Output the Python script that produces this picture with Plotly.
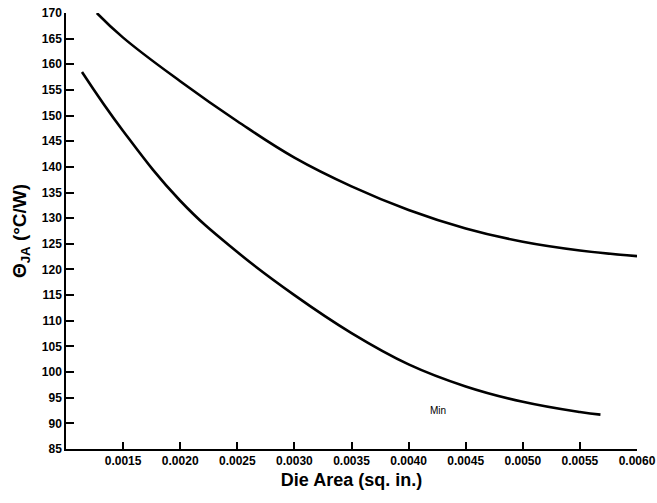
import plotly.graph_objects as go

# Data
upper_x = [0.00127, 0.0015, 0.0020, 0.0025, 0.0030, 0.0035, 0.0040, 0.0045, 0.0050, 0.0055, 0.0060]
upper_y = [170.0, 165.2, 156.7, 148.9, 141.8, 136.2, 131.6, 128.0, 125.4, 123.7, 122.6]

lower_x = [0.00114, 0.0015, 0.0020, 0.0025, 0.0030, 0.0035, 0.0040, 0.0045, 0.0050, 0.0055, 0.00568]
lower_y = [158.5, 147.0, 133.4, 123.4, 115.0, 107.6, 101.5, 97.2, 94.2, 92.2, 91.7]

x_ticks = [0.0015, 0.0020, 0.0025, 0.0030, 0.0035, 0.0040, 0.0045, 0.0050, 0.0055, 0.0060]
y_ticks = list(range(85, 171, 5))

fig = go.Figure()
for xs, ys in [(upper_x, upper_y), (lower_x, lower_y)]:
    fig.add_trace(go.Scatter(x=xs, y=ys, mode="lines",
                             line=dict(color="black", width=2.6, shape="spline", smoothing=1.2),
                             showlegend=False, hoverinfo="skip"))

fig.add_annotation(x=0.00426, y=92.6, text="Min", showarrow=False,
                   font=dict(family="Liberation Sans, Arial", size=10, color="black"))

fig.update_layout(
    width=657, height=503,
    margin=dict(l=66, r=20, t=13, b=54),
    paper_bgcolor="white", plot_bgcolor="white",
    font=dict(family="Liberation Sans, Arial", color="black"),
    xaxis=dict(range=[0.001, 0.006], tickvals=x_ticks, tickformat=".4f",
               automargin=False,
               ticks="inside", ticklen=7, tickwidth=1.5, tickcolor="black",
               showline=True, linecolor="black", linewidth=2,
               showgrid=False, zeroline=False,
               tickfont=dict(size=12, weight="bold", color="black"),
               title=dict(text="Die Area (sq. in.)", standoff=6,
                          font=dict(size=18, weight="bold", color="black"))),
    yaxis=dict(range=[85, 170], tickvals=y_ticks,
               automargin=False,
               ticks="inside", ticklen=8, tickwidth=1.5, tickcolor="black",
               showline=True, linecolor="black", linewidth=1.5,
               showgrid=False, zeroline=False,
               tickfont=dict(size=12, weight="bold", color="black"),
               title=dict(text="Θ<sub>JA</sub> (°C/W)", standoff=10,
                          font=dict(size=19, weight="bold", color="black"))),
)

fig.write_html("out.html", config={"displayModeBar": False},
               post_script="document.body.style.margin='0';")
